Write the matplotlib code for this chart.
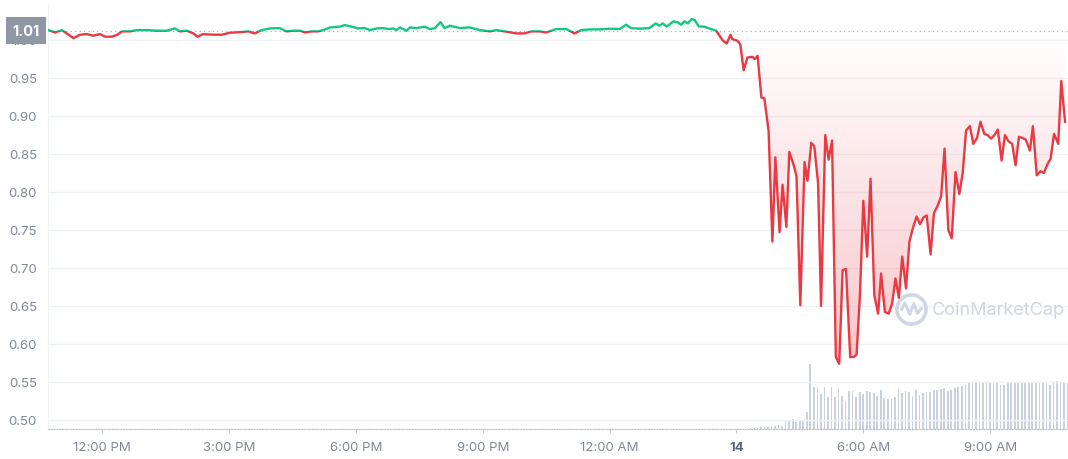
import numpy as np
import matplotlib
matplotlib.use("Agg")
import matplotlib.pyplot as plt
from matplotlib.colors import LinearSegmentedColormap
from matplotlib.patches import Rectangle
from matplotlib.path import Path

plt.rcParams['font.family'] = ['Inter', 'DejaVu Sans']

# price samples: hours since midnight of day 13, price in USD
hours = [
    10.73, 10.89, 11.05, 11.13, 11.32, 11.48, 11.64, 11.79, 11.95, 12.07,
    12.23, 12.36, 12.47, 12.66, 12.82, 13.06, 13.29, 13.53, 13.72, 13.84,
    14.00, 14.16, 14.25, 14.39, 14.63, 14.83, 15.02, 15.26, 15.46, 15.61,
    15.77, 15.97, 16.20, 16.36, 16.52, 16.68, 16.80, 16.95, 17.11, 17.23,
    17.39, 17.62, 17.74, 17.90, 18.05, 18.21, 18.33, 18.49, 18.64, 18.79,
    18.88, 18.96, 19.04, 19.20, 19.28, 19.43, 19.63, 19.75, 19.87, 20.00,
    20.10, 20.22, 20.46, 20.69, 20.93, 21.17, 21.32, 21.56, 21.80, 21.99,
    22.15, 22.35, 22.50, 22.62, 22.74, 22.98, 23.17, 23.33, 23.53, 23.76,
    24.00, 24.24, 24.39, 24.51, 24.71, 24.94, 25.09, 25.18, 25.26, 25.35,
    25.51, 25.61, 25.69, 25.77, 25.85, 25.94, 26.01, 26.11, 26.24, 26.40,
    26.52, 26.68, 26.77, 26.86, 26.90, 27.02, 27.09, 27.17, 27.26, 27.38,
    27.43, 27.50, 27.59, 27.66, 27.76, 27.85, 27.92, 28.02, 28.09, 28.18,
    28.25, 28.35, 28.42, 28.51, 28.61, 28.68, 28.77, 28.84, 28.93, 29.00,
    29.10, 29.18, 29.26, 29.35, 29.43, 29.51, 29.59, 29.69, 29.77, 29.84,
    29.92, 30.00, 30.09, 30.17, 30.26, 30.35, 30.42, 30.51, 30.60, 30.68,
    30.76, 30.84, 30.92, 31.01, 31.09, 31.17, 31.26, 31.34, 31.42, 31.50,
    31.59, 31.67, 31.75, 31.84, 31.92, 32.01, 32.09, 32.18, 32.27, 32.35,
    32.43, 32.52, 32.60, 32.69, 32.77, 32.86, 32.94, 33.02, 33.10, 33.18,
    33.27, 33.35, 33.43, 33.52, 33.60, 33.68, 33.76, 33.84, 33.94, 34.01,
    34.10, 34.19, 34.27, 34.35, 34.43, 34.51, 34.61, 34.68, 34.77,
]
price = [
    1.0127, 1.0096, 1.0127, 1.0096, 1.0021, 1.0066, 1.0074, 1.0053, 1.0074, 1.0040,
    1.0040, 1.0066, 1.0110, 1.0110, 1.0127, 1.0127, 1.0119, 1.0119, 1.0149, 1.0110,
    1.0119, 1.0083, 1.0040, 1.0074, 1.0066, 1.0066, 1.0092, 1.0100, 1.0110, 1.0083,
    1.0127, 1.0149, 1.0153, 1.0110, 1.0119, 1.0119, 1.0096, 1.0110, 1.0110, 1.0127,
    1.0162, 1.0172, 1.0193, 1.0172, 1.0149, 1.0153, 1.0127, 1.0149, 1.0153, 1.0140,
    1.0149, 1.0127, 1.0162, 1.0119, 1.0162, 1.0153, 1.0172, 1.0140, 1.0153, 1.0232,
    1.0153, 1.0185, 1.0153, 1.0162, 1.0127, 1.0110, 1.0127, 1.0106, 1.0083, 1.0083,
    1.0110, 1.0110, 1.0096, 1.0119, 1.0140, 1.0140, 1.0083, 1.0127, 1.0136, 1.0136,
    1.0145, 1.0140, 1.0198, 1.0153, 1.0145, 1.0153, 1.0215, 1.0185, 1.0215, 1.0172,
    1.0242, 1.0229, 1.0198, 1.0242, 1.0215, 1.0272, 1.0259, 1.0176, 1.0172, 1.0140,
    1.0119, 0.9987, 0.9951, 1.0066, 1.0008, 0.9987, 0.9942, 0.9598, 0.9766, 0.9775,
    0.9744, 0.9789, 0.9238, 0.9229, 0.8798, 0.7345, 0.8454, 0.7468, 0.8093, 0.7538,
    0.8524, 0.8357, 0.8203, 0.6507, 0.8392, 0.8145, 0.8643, 0.8600, 0.8115, 0.6499,
    0.8745, 0.8423, 0.8674, 0.5826, 0.5737, 0.6970, 0.6983, 0.5826, 0.5826, 0.5856,
    0.6639, 0.7881, 0.7147, 0.8172, 0.6639, 0.6397, 0.6926, 0.6420, 0.6397, 0.6530,
    0.6860, 0.6605, 0.7147, 0.6728, 0.7345, 0.7520, 0.7675, 0.7573, 0.7662, 0.7688,
    0.7177, 0.7719, 0.7807, 0.7939, 0.8568, 0.7498, 0.7388, 0.8260, 0.7970, 0.8247,
    0.8806, 0.8864, 0.8630, 0.8709, 0.8921, 0.8762, 0.8745, 0.8700, 0.8745, 0.8819,
    0.8410, 0.8745, 0.8666, 0.8630, 0.8349, 0.8723, 0.8709, 0.8687, 0.8542, 0.8864,
    0.8217, 0.8270, 0.8247, 0.8357, 0.8436, 0.8762, 0.8630, 0.9458, 0.8921,
]
open_price = 1.012

# 5-minute volume bars (relative units) starting at hour 27.33
vol_start = 27.33
volume = [
    1.3, 1.3, 1.3, 1.7, 2, 2, 2.7, 3.3, 4, 3.3,
    8.7, 8, 10, 7.3, 9.3, 9.3, 16.7, 65, 41.7, 41.7,
    35, 41.7, 31.7, 41.7, 31.7, 40, 33.3, 27.7, 38.3, 37.7,
    32.3,
    37.3, 35, 38.3, 36.7, 35.7, 33.3, 39.3, 30.7, 30, 30,
    32.3, 40, 36, 38.3, 37.3, 33.3, 39.3, 34, 35.7, 36.7,
    36.7, 39.3, 39.3, 40, 40.7, 37.7, 39.3, 40.7, 41.7, 42.7,
    44, 46, 46.7, 46.7, 47, 47.3, 46.7, 47.3, 46.7, 46,
    44, 44, 47.3, 46.7, 46.7, 46, 46.7, 46.7, 47, 46.7,
    47, 47.3, 46.7, 46, 44, 47.3, 47.7, 46.7, 46.7, 47,
]

yticks = [0.50, 0.55, 0.60, 0.65, 0.70, 0.75, 0.80, 0.85, 0.90, 0.95, 1.00]
xticks = [12, 15, 18, 21, 24, 27, 30, 33]
xlabels = ['12:00 PM', '3:00 PM', '6:00 PM', '9:00 PM', '12:00 AM', '14', '6:00 AM', '9:00 AM']

GREEN = '#16c784'
RED = '#ea3943'
GREY = '#808a9d'
MARK = '#cfd6e4'

h = np.array(hours)
p = np.array(price)
x0, x1 = 10.72, 34.84
y0, y1 = 0.488, 1.047

fig = plt.figure(figsize=(10.68, 4.6), dpi=100)
ax = fig.add_axes([48 / 1068, 30 / 460, 1020 / 1068, 425 / 460])
ax2 = ax.twinx()

# volume bars underneath
vol_h = vol_start + np.arange(len(volume)) / 12
ax2.bar(vol_h, volume, width=0.04, color='#cbd2df', linewidth=0)
ax2.set_ylim(0, 425)
ax2.axis('off')
ax.set_zorder(ax2.get_zorder() + 1)
ax.patch.set_visible(False)

# gradient fills between price and the opening price
below = ax.fill_between(h, p, open_price, where=p <= open_price, interpolate=True,
                        facecolor='none', edgecolor='none')
above = ax.fill_between(h, p, open_price, where=p >= open_price, interpolate=True,
                        facecolor='none', edgecolor='none')
grad = np.linspace(0, 1, 256).reshape(-1, 1)
red_cmap = LinearSegmentedColormap.from_list(
    'r', [(0.918, 0.224, 0.263, 0.30), (0.918, 0.224, 0.263, 0.0)])
green_cmap = LinearSegmentedColormap.from_list(
    'g', [(0.086, 0.78, 0.518, 0.0), (0.086, 0.78, 0.518, 0.12)])
im_r = ax.imshow(grad, extent=[x0, x1, 0.55, open_price], origin='lower',
                 aspect='auto', cmap=red_cmap, zorder=1)
im_r.set_clip_path(Path.make_compound_path(*below.get_paths()), ax.transData)
im_g = ax.imshow(grad, extent=[x0, x1, open_price, 1.03], origin='lower',
                 aspect='auto', cmap=green_cmap, zorder=1)
im_g.set_clip_path(Path.make_compound_path(*above.get_paths()), ax.transData)

# price line, green above the open and red below
g_line, = ax.plot(h, p, color=GREEN, lw=1.7, zorder=3, solid_joinstyle='round')
r_line, = ax.plot(h, p, color=RED, lw=1.7, zorder=3, solid_joinstyle='round')
g_line.set_clip_path(Rectangle((x0, open_price), x1 - x0, 1, transform=ax.transData))
r_line.set_clip_path(Rectangle((x0, 0), x1 - x0, open_price, transform=ax.transData))

ax.axhline(open_price, color='#a6acb8', lw=0.8, ls=(0, (1, 3)), zorder=2)

ax.set_xlim(x0, x1)
ax.set_ylim(y0, y1)
ax.set_yticks(yticks)
ax.set_yticklabels([f'{v:.2f}' for v in yticks])
ax.set_xticks(xticks)
ax.set_xticklabels(xlabels)
ax.tick_params(axis='y', length=0, pad=8, labelsize=9.5, labelcolor=GREY)
ax.tick_params(axis='x', length=3, width=0.8, color='#c4c9d2', pad=6,
               labelsize=9.5, labelcolor=GREY)
lbl14 = ax.get_xticklabels()[5]
lbl14.set_fontweight('bold')
lbl14.set_color('#58667e')

ax.grid(axis='y', color='#eff2f5', lw=1)
ax.set_axisbelow(True)
for s in ['top', 'right']:
    ax.spines[s].set_visible(False)
ax.spines['left'].set_color('#eff2f5')
ax.spines['bottom'].set_color('#b8bec9')
ax.spines['bottom'].set_linestyle((0, (1, 1.5)))
ax.spines['bottom'].set_linewidth(0.8)

# open price tag on the y axis (covers the 1.00 label like the original)
ax.text(-0.0216, open_price, '1.01', transform=ax.get_yaxis_transform(),
        ha='center', va='center', fontsize=10.5, fontweight='bold', color='white',
        bbox=dict(boxstyle='square,pad=0.42', facecolor='#8f96a4', edgecolor='none'),
        zorder=10, clip_on=False)

# watermark logo + name
wave = Path([(-0.55, -0.05), (-0.35, 0.35), (-0.1, -0.25), (0.12, 0.3),
             (0.32, -0.2), (0.55, 0.1)])
ax.plot([0.846], [0.282], transform=ax.transAxes, marker='o', markersize=21,
        markerfacecolor='none', markeredgecolor=MARK, markeredgewidth=2.6, zorder=2)
ax.plot([0.846], [0.282], transform=ax.transAxes, marker=wave, markersize=15,
        markerfacecolor='none', markeredgecolor=MARK, markeredgewidth=2.2, zorder=2)
ax.text(0.867, 0.282, 'CoinMarketCap', transform=ax.transAxes, ha='left', va='center',
        fontsize=13, color=MARK, zorder=2)

fig.savefig('out.png', dpi=100)
